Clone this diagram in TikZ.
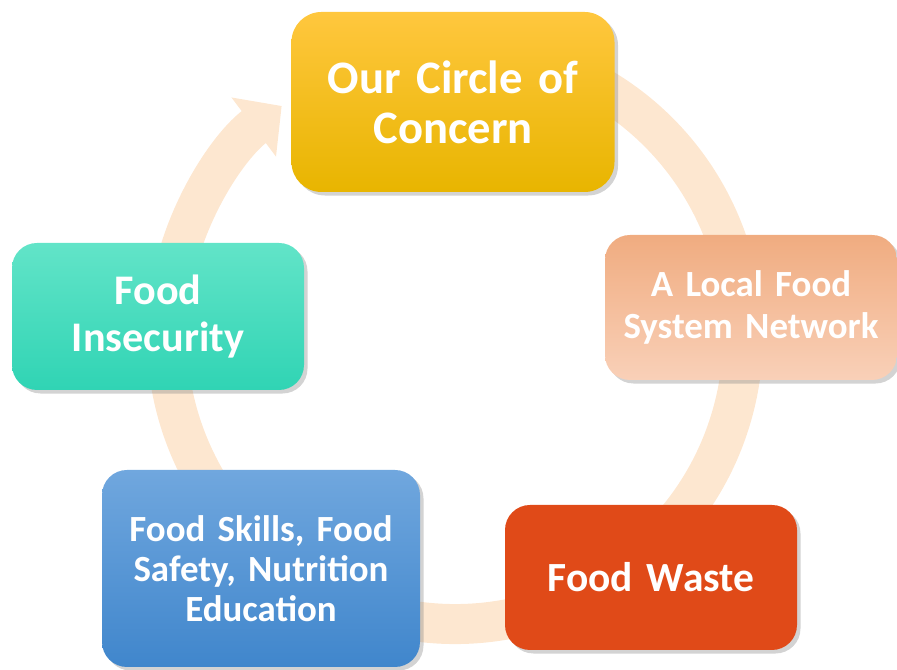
\documentclass[tikz,border=0pt]{standalone}
\usepackage{fontspec}
\setmainfont{Carlito}
\usepackage{tikz}
\usetikzlibrary{arrows.meta,shadows}

\definecolor{ringpeach}{RGB}{253,231,208}
\definecolor{goldtop}{RGB}{255,199,62}
\definecolor{goldbot}{RGB}{232,181,0}
\definecolor{peachtop}{RGB}{240,172,128}
\definecolor{peachbot}{RGB}{249,208,184}
\definecolor{wasteorange}{RGB}{224,74,24}
\definecolor{bluetop}{RGB}{112,167,222}
\definecolor{bluebot}{RGB}{64,134,204}
\definecolor{tealtop}{RGB}{98,228,200}
\definecolor{tealbot}{RGB}{48,212,180}

\tikzset{
  card/.style={rounded corners=0.5cm, text=white, align=center, font=\bfseries,
    drop shadow={shadow xshift=2pt, shadow yshift=-2pt, opacity=0.35}},
  ring/.style={line width=0.8cm, draw=ringpeach,
    -{Triangle[length=0.7cm,width=1.44cm]}}
}

\begin{document}
\begin{tikzpicture}
    \useasboundingbox (0,0) rectangle (17.94,13.4);
    % ring:
    \coordinate (hub) at (9.10,6.68);
    \draw[ring] (hub) ++(75:5.76) arc[start angle=75, end angle=-233, radius=5.76];
    % boxes:
    \node[card, rounded corners=0.6cm, top color=goldtop, bottom color=goldbot,
          minimum width=6.46cm, minimum height=3.6cm, text width=6cm,
          font=\bfseries\fontsize{26.5}{28.5}\selectfont] (concern) at (9.06,11.36)
          {Our Circle of\\Concern};
    \node[card, top color=peachtop, bottom color=peachbot,
          minimum width=5.84cm, minimum height=2.9cm, text width=5.6cm,
          font=\bfseries\fontsize{21}{23.6}\selectfont] (network) at (15.02,7.25)
          {A Local Food\\System Network};
    \node[card, fill=wasteorange,
          minimum width=5.84cm, minimum height=2.9cm, text width=5.6cm,
          font=\bfseries\fontsize{23.6}{26}\selectfont] (waste) at (13.02,1.85)
          {Food Waste};
    \node[card, top color=bluetop, bottom color=bluebot,
          minimum width=6.36cm, minimum height=3.94cm, text width=6cm,
          font=\bfseries\fontsize{21}{22.8}\selectfont] (skills) at (5.22,2.03)
          {Food Skills, Food\\Safety, Nutrition\\Education};
    \node[card, top color=tealtop, bottom color=tealbot,
          minimum width=5.84cm, minimum height=2.94cm, text width=5.6cm,
          font=\bfseries\fontsize{24}{26.5}\selectfont] (insecurity) at (3.16,7.07)
          {Food\\Insecurity};
\end{tikzpicture}
\end{document}
